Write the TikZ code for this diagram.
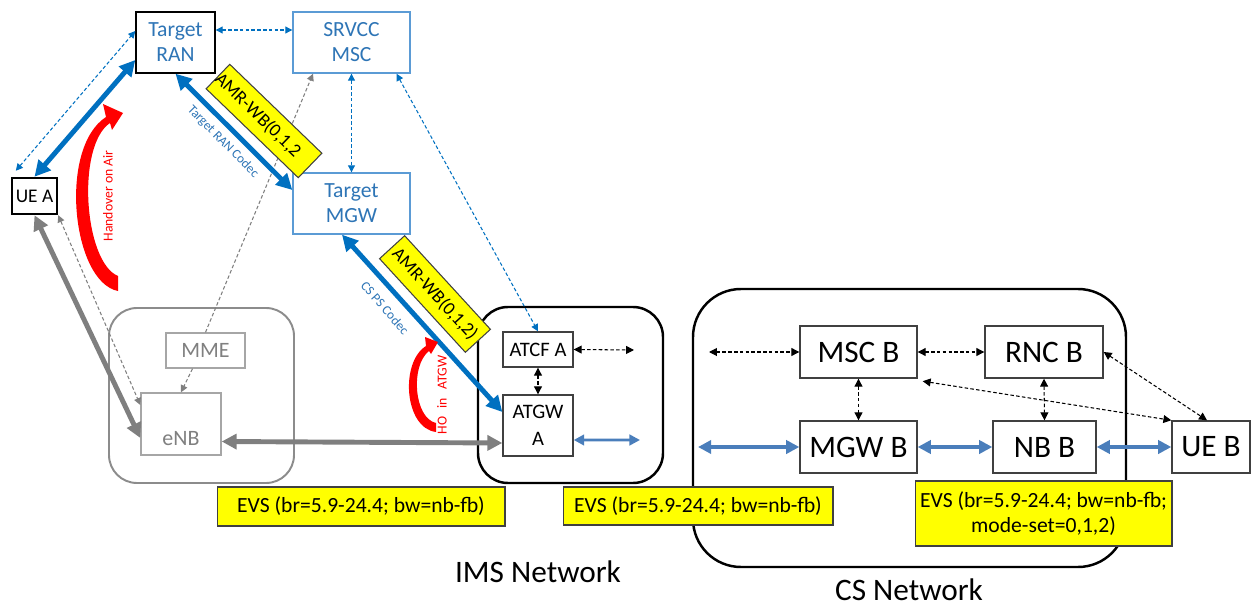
\documentclass[tikz,border=0pt]{standalone}
\usepackage{fontspec}
\setmainfont{Carlito}
\usetikzlibrary{arrows.meta,calc}
\definecolor{tblue}{HTML}{0070C0}
\definecolor{ttext}{HTML}{2E75B6}
\definecolor{tline}{HTML}{5B9BD5}
\definecolor{steel}{HTML}{4A7EBB}
\definecolor{gthick}{HTML}{7F7F7F}
\definecolor{gbox}{HTML}{8C8C8C}
\definecolor{glight}{HTML}{A6A6A6}
\definecolor{gtext}{HTML}{808080}
\definecolor{evsy}{HTML}{FFFF00}
\definecolor{dk}{HTML}{404040}
\definecolor{hored}{HTML}{FF0000}
\begin{document}
\begin{tikzpicture}[x=0.02cm,y=-0.02cm,
  bx/.style={draw, fill=white, inner sep=0pt, align=center, line width=0.8pt},
  bluebox/.style={bx, draw=tline, text=ttext, font=\fontsize{12.3}{14.2}\selectfont},
  bigbox/.style={bx, draw=dk, font=\fontsize{17.8}{20}\selectfont},
  midbox/.style={bx, draw=dk, font=\fontsize{11.7}{15}\selectfont},
  greybox/.style={bx, draw=glight, text=gtext, font=\fontsize{12.5}{14}\selectfont},
  evsbox/.style={draw=dk, fill=evsy, line width=0.6pt, inner sep=0pt, align=center,
                 font=\fontsize{12.3}{14.2}\selectfont},
  amrbox/.style={draw=dk, fill=evsy, line width=0.6pt, inner sep=0pt,
                 minimum width=2.54cm, minimum height=0.68cm,
                 font=\fontsize{10.5}{12}\selectfont},
  container/.style={rounded corners=#1, line width=1.4pt},
  dbl/.style={arrows={Triangle[length=#1,width=#1]-Triangle[length=#1,width=#1]}},
  tipend/.style={arrows={-Triangle[length=#1,width=#1]}},
  thickblue/.style={draw=tblue, line width=2.8pt, dbl=9pt},
  thicksteel/.style={draw=steel, line width=2.8pt, dbl=7.5pt},
  thickgrey/.style={draw=gthick, line width=2.8pt, dbl=8.5pt},
  thinline/.style={line width=0.6pt, dash pattern=on 2pt off 1.3pt},
  dashblue/.style={thinline, draw=tblue, dbl=4pt},
  dashblack/.style={thinline, draw=black, dbl=4.5pt},
  dashgrey/.style={thinline, draw=gthick},
  codec/.style={text=ttext, font=\fontsize{7.5}{9}\selectfont, inner sep=0pt},
  holabel/.style={text=hored, font=\fontsize{7.8}{9}\selectfont, inner sep=0pt, rotate=90},
  netlabel/.style={font=\fontsize{17.8}{20}\selectfont, inner sep=0pt}
]
\useasboundingbox (0,0) rectangle (1251,608);

% network containers
\draw[container=0.56cm, draw=gbox, line width=1.1pt] (109,308) rectangle (294,483);
\draw[container=0.6cm] (478,307) rectangle (663,483);
\draw[container=0.96cm] (693,289) rectangle (1126,567);

% network elements
\node[bx, draw=black, text=ttext, font=\fontsize{12.3}{14.2}\selectfont,
      minimum width=1.58cm, minimum height=1.22cm] (trn) at (175.5,42.5) {Target\\RAN};
\node[bluebox, minimum width=2.34cm, minimum height=1.22cm] (srvcc) at (351.5,42.5) {SRVCC\\MSC};
\node[bluebox, minimum width=2.34cm, minimum height=1.22cm] (tmgw) at (351.5,203.5) {Target\\MGW};
\node[bx, draw=black, line width=1.4pt, font=\fontsize{11}{13}\selectfont,
      minimum width=0.9cm, minimum height=0.72cm] (uea) at (34.5,196) {UE A};
\node[midbox, minimum width=1.4cm, minimum height=0.7cm] (atcf) at (538,349.5) {ATCF A};
\node[midbox, minimum width=1.4cm, minimum height=1.22cm] (atgw) at (538,425.5) {ATGW\\A};
\node[greybox, minimum width=1.58cm, minimum height=0.7cm] (mme) at (205.5,350.5) {MME};
\node[greybox, minimum width=1.6cm, minimum height=1.24cm,
      label={[anchor=base, yshift=0.2cm, text=gtext, font=\fontsize{12.5}{14}\selectfont]south:eNB}]
      (enb) at (181,424) {};
\node[bigbox, minimum width=2.34cm, minimum height=1.04cm] (mscb) at (858.5,352) {MSC B};
\node[bigbox, minimum width=2.36cm, minimum height=1.04cm] (rncb) at (1044,352) {RNC B};
\node[bigbox, minimum width=2.34cm, minimum height=1.04cm] (mgwb) at (858.5,447) {MGW B};
\node[bigbox, minimum width=2.06cm, minimum height=1.04cm] (nbb) at (1044.5,447) {NB B};
\node[bigbox, minimum width=1.56cm, minimum height=1.04cm] (ueb) at (1211,447) {UE B};

% free ends of the outgoing links
\coordinate (atcfout) at (634,350);
\coordinate (atgwout) at (640,440);
\coordinate (mscbin) at (709,352);
\coordinate (mgwbin) at (698,447);

% signalling links (dashed)
\draw[dashblue] ([yshift=0.25cm]trn.east) -- ([yshift=0.25cm]srvcc.west);
\draw[dashblue] ([xshift=0.1cm,yshift=0.12cm]uea.north west) -- ([yshift=0.23cm]trn.west);
\draw[dashblue] (srvcc.south) -- (tmgw.north);
\draw[dashblue] ([xshift=0.9cm]srvcc.south) -- (atcf.north);
\draw[dashgrey, tipend=4pt] (mme.north) -- ([xshift=-0.77cm]srvcc.south);
\draw[dashgrey, tipend=4pt] ([xshift=-0.26cm]mme.south) -- (enb.north);
\draw[dashgrey, dbl=4pt] (uea.south east) -- ([yshift=0.38cm]enb.west);
\draw[dashblack] (atcf.south) -- (atgw.north);
\draw[dashblack] (atcf.east) -- (atcfout);
\draw[dashblack] (mscbin) -- (mscb.west);
\draw[dashblack] (mscb.east) -- (rncb.west);
\draw[dashblack] (mscb.south) -- (mgwb.north);
\draw[dashblack] (rncb.south) -- (nbb.north);
\draw[dashblack] (rncb.east) -- ([xshift=-0.08cm]ueb.north);
\draw[dashblack] ([xshift=0.1cm,yshift=-0.05cm]mscb.south east) -- (ueb.north west);

% bearer links (thick)
\draw[thickblue] (uea.north) -- ([yshift=-0.35cm]trn.west);
\draw[thickblue] (trn.south) -- ([yshift=0.27cm]tmgw.west);
\draw[thickblue] ([xshift=-0.19cm]tmgw.south) -- ([yshift=0.27cm]atgw.west);
\draw[thickgrey] (uea.south) -- ([yshift=-0.28cm]enb.west);
\draw[thickgrey] ([yshift=-0.35cm]enb.east) -- ([yshift=-0.35cm]atgw.west);
\draw[draw=steel, line width=1.7pt, dbl=6pt] ([yshift=-0.29cm]atgw.east) -- (atgwout);
\draw[thicksteel] (mgwbin) -- (mgwb.west);
\draw[thicksteel] (mgwb.east) -- (nbb.west);
\draw[thicksteel] (nbb.east) -- (ueb.west);

% codec labels along the bearers
\node[amrbox, rotate=-44] (amr1) at (264,121) {AMR-WB(0,1,2\hspace*{0.9em}};
\node[amrbox, rotate=-47.5] (amr2) at (435,294) {AMR-WB(0,1,2)};
\node[codec, rotate=-45.5] (rancodec) at (223,142) {Target RAN Codec};
\node[codec, rotate=-48.5] (pscodec) at (385,308) {CS PS Codec};

% handover arrows
\fill[hored] (118,291) .. controls (72,282) and (58,148) .. (106,117) -- (103,104)
  -- (123,113) -- (112,130) -- (110,123) .. controls (76,146) and (84,262) .. (118,276) -- cycle;
\node[holabel] (hoair) at (108,196) {Handover on Air};
\fill[hored] (436,432) .. controls (404,428) and (400,362) .. (426,346) -- (425,337)
  -- (438,342) -- (431,354) -- (429,351) .. controls (410,366) and (414,418) .. (436,423) -- cycle;
\node[holabel] (hoatgw) at (442,395) {HO\hspace{0.4em} in\hspace{0.4em} ATGW};

% codec configurations
\node[evsbox, minimum width=5.76cm, minimum height=0.78cm] (evs1) at (361,506.5)
  {EVS (br=5.9-24.4; bw=nb-fb)};
\node[evsbox, minimum width=5.4cm, minimum height=0.76cm] (evs2) at (698,506)
  {EVS (br=5.9-24.4; bw=nb-fb)};
\node[evsbox, minimum width=5.14cm, minimum height=1.3cm] (evs3) at (1043.5,513.5)
  {EVS (br=5.9-24.4; bw=nb-fb;\\mode-set=0,1,2)};

% network names
\node[netlabel] (imsnet) at (538,572) {IMS Network};
\node[netlabel] (csnet) at (909,590) {CS Network};
\end{tikzpicture}
\end{document}
